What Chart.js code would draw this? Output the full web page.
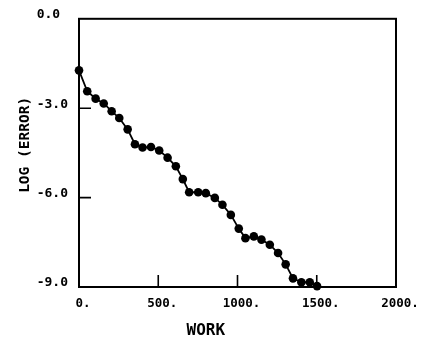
<!DOCTYPE html>
<html>
<head>
<meta charset="utf-8">
<script src="https://cdn.jsdelivr.net/npm/chart.js@4/dist/chart.umd.min.js"></script>
<style>
  html, body { margin: 0; padding: 0; background: #fff; }
  #wrap { width: 427px; height: 341px; position: relative; }
</style>
</head>
<body>
<div id="wrap"><canvas id="c" width="427" height="341"></canvas></div>
<script>
// Data
const work = [0, 52, 105, 156, 206, 254, 307, 353, 401, 454, 506, 559, 611, 655, 695, 752,
              800, 857, 905, 958, 1008, 1050, 1103, 1151, 1204, 1256, 1304, 1350, 1403, 1456, 1502];
const logError = [-1.73, -2.43, -2.68, -2.84, -3.10, -3.33, -3.71, -4.21, -4.32, -4.30, -4.42,
                  -4.66, -4.95, -5.38, -5.82, -5.82, -5.85, -6.01, -6.24, -6.58, -7.04, -7.36,
                  -7.30, -7.41, -7.58, -7.86, -8.24, -8.71, -8.84, -8.84, -8.97];
const xTicks = [0, 500, 1000, 1500, 2000];
const yTicks = [0, -3, -6, -9];
const xTitle = 'WORK';
const yTitle = 'LOG (ERROR)';

const FONT = "'DejaVu Sans Mono', 'Liberation Mono', monospace";

const points = work.map((w, i) => ({ x: w, y: logError[i] }));

const framePlugin = {
  id: 'frame',
  afterDraw(chart) {
    const { ctx, chartArea: a, scales } = chart;
    ctx.save();
    ctx.strokeStyle = '#000';
    ctx.lineWidth = 2;
    ctx.strokeRect(a.left, a.top, a.right - a.left, a.bottom - a.top);
    // inward tick marks
    ctx.lineWidth = 1.6;
    ctx.beginPath();
    xTicks.forEach(v => {
      const px = scales.x.getPixelForValue(v);
      if (px > a.left + 1 && px < a.right - 1) { ctx.moveTo(px, a.bottom); ctx.lineTo(px, a.bottom - 12); }
    });
    yTicks.forEach(v => {
      const py = scales.y.getPixelForValue(v);
      if (py > a.top + 1 && py < a.bottom - 1) { ctx.moveTo(a.left, py); ctx.lineTo(a.left + 12, py); }
    });
    ctx.stroke();
    // axis titles
    ctx.fillStyle = '#000';
    ctx.textAlign = 'center';
    ctx.textBaseline = 'middle';
    ctx.font = "bold 16px " + FONT;
    ctx.fillText(xTitle, a.left + 0.4 * (a.right - a.left), chart.height - 10);
    ctx.translate(25, a.top + 0.47 * (a.bottom - a.top));
    ctx.rotate(-Math.PI / 2);
    ctx.font = "bold 14.5px " + FONT;
    ctx.fillText(yTitle, 0, 0);
    ctx.restore();
  }
};

new Chart(document.getElementById('c'), {
  type: 'line',
  data: {
    datasets: [{
      data: points,
      borderColor: '#000',
      backgroundColor: '#000',
      borderWidth: 1.8,
      pointRadius: 4.3,
      pointBackgroundColor: '#000',
      pointBorderColor: '#000',
      pointBorderWidth: 0,
      tension: 0,
      clip: false
    }]
  },
  options: {
    responsive: false,
    animation: false,
    events: [],
    layout: { padding: { left: 35, top: 17, right: 31, bottom: 0 } },
    plugins: { legend: { display: false }, tooltip: { enabled: false } },
    scales: {
      x: {
        type: 'linear',
        min: 0, max: 2000,
        afterBuildTicks: s => { s.ticks = xTicks.map(v => ({ value: v })); },
        afterFit: s => { s.height = 54; },
        grid: { display: false, drawTicks: false },
        border: { display: false },
        ticks: {
          color: '#000',
          font: { family: FONT, size: 12.5, weight: 'bold' },
          padding: 9,
          labelOffset: 4,
          maxRotation: 0,
          callback: v => v + '.'
        }
      },
      y: {
        type: 'linear',
        min: -9, max: 0,
        afterBuildTicks: s => { s.ticks = yTicks.map(v => ({ value: v })); },
        afterFit: s => { s.width = 44; },
        grid: { display: false, drawTicks: false },
        border: { display: false },
        ticks: {
          color: '#000',
          font: { family: FONT, size: 13, weight: 'bold' },
          padding: 11,
          labelOffset: -4,
          crossAlign: 'near',
          callback: v => (Number(v).toFixed(1)).padEnd(4, ' ')
        }
      }
    }
  },
  plugins: [framePlugin]
});
</script>
</body>
</html>
